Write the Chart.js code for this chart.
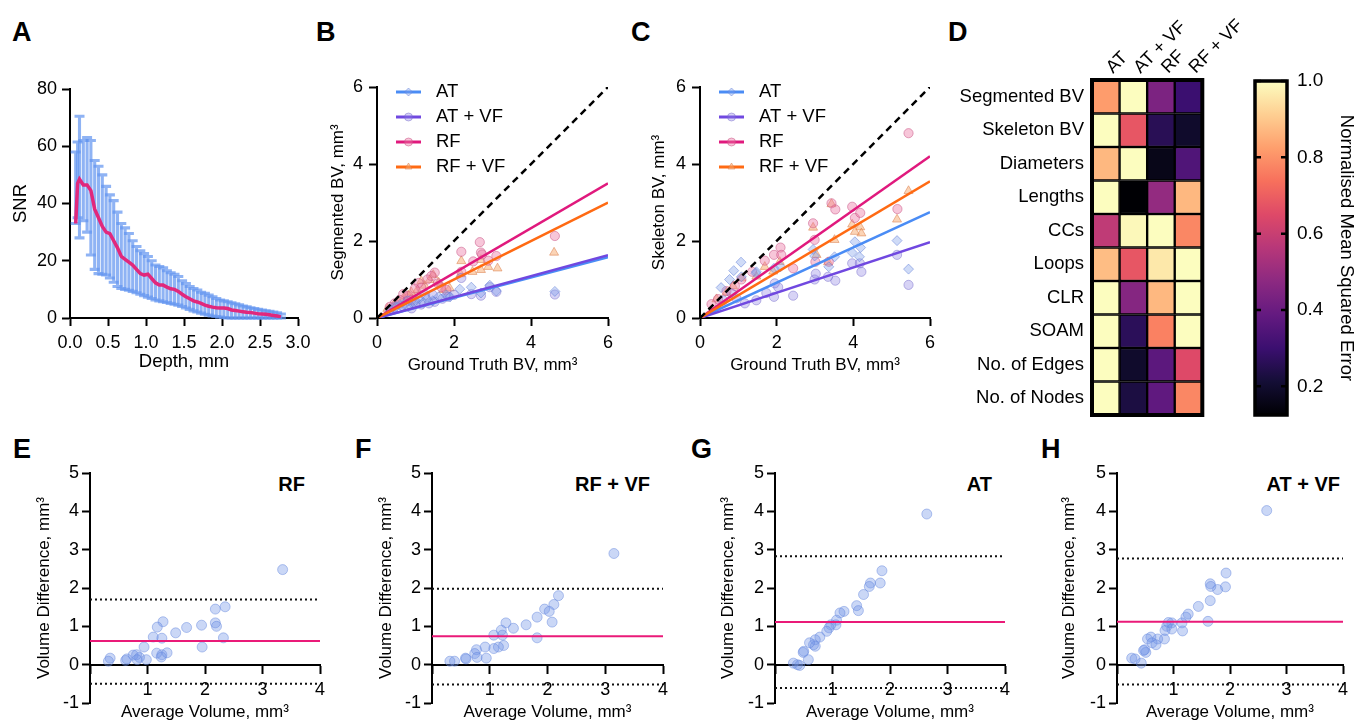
<!DOCTYPE html>
<html><head><meta charset="utf-8">
<script src="https://cdn.jsdelivr.net/npm/chart.js@4.4.1/dist/chart.umd.min.js"></script>
<style>
html,body{margin:0;padding:0;background:#fff;}
body{width:1357px;height:721px;position:relative;overflow:hidden;font-family:"Liberation Sans",Arial,sans-serif;}
canvas{position:absolute;}
.lbl{position:absolute;font-weight:bold;font-size:27px;line-height:1;color:#000;}
.ttl{position:absolute;font-weight:bold;font-size:20px;line-height:1;color:#000;white-space:nowrap;}
</style></head><body>
<div class="lbl" style="left:12px;top:19px">A</div>
<div class="lbl" style="left:316px;top:19px">B</div>
<div class="lbl" style="left:631px;top:19px">C</div>
<div class="lbl" style="left:948px;top:19px">D</div>
<div class="lbl" style="left:13px;top:436px">E</div>
<div class="lbl" style="left:355px;top:436px">F</div>
<div class="lbl" style="left:691px;top:436px">G</div>
<div class="lbl" style="left:1041px;top:436px">H</div>
<div class="ttl" style="right:1052px;top:474px">RF</div>
<div class="ttl" style="right:707px;top:474px">RF + VF</div>
<div class="ttl" style="right:365px;top:474px">AT</div>
<div class="ttl" style="right:17px;top:474px">AT + VF</div>
<script>
// ---------- Panel A data ----------
const depthMm = [0.075,0.1,0.125,0.175,0.225,0.275,0.325,0.375,0.425,0.475,0.525,0.575,0.625,0.675,0.725,0.775,0.825,0.875,0.925,0.975,1.025,1.075,1.125,1.175,1.225,1.275,1.325,1.375,1.425,1.475,1.525,1.575,1.625,1.675,1.725,1.775,1.825,1.875,1.925,1.975,2.025,2.075,2.125,2.175,2.225,2.275,2.325,2.375,2.425,2.475,2.525,2.575,2.625,2.675,2.725,2.775];
const snrMean = [33,47,48.5,46.5,46.5,44.5,38,35,32,30,29.5,27,24.5,21.5,20.5,19.5,18.5,17,15.5,15,15.3,13.8,12.3,11.5,11.5,10.8,10.2,10,9.3,8.3,7.4,6.7,6,5.6,5.1,4.5,4.1,3.8,3.6,3.5,3.5,3.3,2.8,2.6,2.4,2.2,2,1.9,1.7,1.5,1.4,1.3,1.1,0.9,0.7,0.4];
const snrUpper = [58,61.5,70.5,62,63,62,55,53,50,46,43,41,37,33,31.5,29.5,27,25,23.5,22.5,21.5,20,18.5,18,17.5,16.5,15.8,15.3,14.5,13,12,11,10.3,9.8,9,8.6,8,7.4,6.8,6.3,6,5.7,5.3,5,4.6,4.2,3.9,3.6,3.3,3,2.8,2.5,2.3,2.1,1.8,1.4];
const snrLower = [33,35,28,34,30,22,17,15.5,15.3,15,14,12.5,11,10.3,10,9.7,9.3,8.8,8.3,7.8,7.3,6.8,6.3,6,5.7,5.4,5.1,4.8,4.5,4,3.5,3,2.5,2.1,1.7,1.3,1,0.7,0.5,0.3,0.2,0,0,0,0,0,0,0,0,0,0,0,0,0,0,0];

// ---------- Panel B data (ground truth vs segmented BV) ----------
const gtB_AT   = [0.35,0.5,0.7,0.9,1.0,1.1,1.3,1.45,1.6,1.8,2.15,2.45,2.7,2.93,3.1,4.62,0.6,1.2,0.8,1.9];
const segB_AT  = [0.22,0.3,0.35,0.4,0.45,0.5,0.5,0.45,0.55,0.6,0.75,0.8,0.65,0.85,0.7,0.69,0.35,0.4,0.3,0.55];
const gtB_ATVF = [0.33,0.45,0.65,0.9,1.0,1.15,1.35,1.5,1.7,1.85,2.19,2.45,2.7,2.93,3.1,4.62,0.8,1.25,1.45,2.0];
const segB_ATVF= [0.2,0.28,0.32,0.25,0.38,0.35,0.38,0.42,0.5,0.55,1.04,0.62,0.58,0.8,0.68,0.61,0.45,0.6,0.6,0.6];
const gtB_RF   = [4.62,2.67,2.19,2.70,2.73,3.10,2.89,2.50,1.50,1.41,1.31,1.08,1.15,0.98,0.81,0.68,0.59,0.46,0.33,1.80,1.67,1.58,2.19,0.89];
const segB_RF  = [2.13,1.97,1.72,1.70,1.65,1.61,1.49,1.47,1.18,1.09,1.00,0.91,0.79,0.76,0.57,0.62,0.47,0.38,0.29,0.73,0.80,0.90,1.20,0.47];
const gtB_RFVF = [4.60,2.19,2.70,2.89,3.13,2.70,2.48,2.17,1.37,1.46,1.24,1.05,0.89,0.70,0.55,0.42,1.89,1.72,1.60,1.15,0.81,0.27];
const segB_RFVF= [1.70,1.48,1.51,1.33,1.29,1.25,1.20,1.14,0.99,1.12,0.84,0.73,0.67,0.54,0.42,0.31,0.77,0.73,0.92,0.96,0.59,0.24];
const fitEndB  = [1.58,1.63,3.5,3.0];   // fitted value at x = 6 : AT, AT+VF, RF, RF+VF

// ---------- Panel C data (ground truth vs skeleton BV) ----------
const gtC_AT   = [5.44,5.14,4.04,3.97,4.19,4.16,3.51,2.99,2.95,3.36,2.10,1.93,1.47,1.07,0.88,0.77,1.08,1.46,0.55];
const skC_AT   = [1.27,2.01,1.98,1.70,1.83,1.59,1.59,1.61,1.78,1.33,1.33,1.29,1.20,1.45,1.23,1.00,1.07,1.16,0.79];
const gtC_ATVF = [5.44,5.14,4.21,3.97,4.17,3.53,3.34,2.99,3.02,2.43,2.04,1.95,1.73,1.93,1.47,1.17,0.95,0.82,0.60];
const skC_ATVF = [0.86,1.64,1.20,1.42,1.42,0.97,1.07,1.00,1.15,0.58,0.80,0.90,0.65,0.55,0.46,0.38,0.51,0.64,0.46];
const gtC_RF   = [5.44,3.43,3.53,3.97,4.04,4.18,5.15,2.95,2.99,2.10,1.93,2.12,1.69,2.43,3.36,1.36,1.08,0.91,0.69,0.47,0.30,3.01];
const skC_RF   = [4.80,2.98,2.82,2.89,2.60,2.73,2.83,2.46,2.03,1.83,1.64,1.64,1.49,1.29,1.46,1.20,1.00,0.83,0.70,0.49,0.36,1.46];
const gtC_RFVF = [5.44,5.14,3.43,3.97,4.18,4.21,4.04,2.95,3.51,3.04,3.34,2.08,1.69,1.91,1.47,1.08,0.86,0.69,0.43];
const skC_RFVF = [3.30,2.56,2.96,2.43,2.36,2.20,2.24,2.35,2.03,1.64,1.45,1.46,1.33,1.21,1.08,1.03,0.83,0.66,0.49];
const fitEndC  = [2.75,1.97,4.2,3.55];
const identityLine = [0, 6];

// ---------- Panel D data (normalised MSE; one array per method column) ----------
const metricRows = ['Segmented BV','Skeleton BV','Diameters','Lengths','CCs','Loops','CLR','SOAM','No. of Edges','No. of Nodes'];
const methodCols = ['AT','AT + VF','RF','RF + VF'];
const mseAT   = [0.82,1.0,0.87,1.0,0.58,0.88,1.0,1.0,1.0,1.0];
const mseATVF = [1.0,0.68,1.0,0.125,0.99,0.68,0.46,0.265,0.195,0.23];
const mseRF   = [0.44,0.26,0.16,0.49,1.0,0.96,0.87,0.77,0.37,0.38];
const mseRFVF = [0.30,0.195,0.345,0.87,0.78,1.0,1.0,1.0,0.65,0.78];
const cbMin = 0.125, cbMax = 1.0;
const cbTicks = [0.2,0.4,0.6,0.8,1.0];

// ---------- Panels E-H data (Bland-Altman) ----------
const avgE  = [3.35,2.35,2.18,2.18,2.20,2.32,1.94,1.95,1.68,1.49,1.27,1.17,1.10,1.25,1.16,1.25,1.24,1.34,0.94,0.98,0.86,0.75,0.81,0.82,0.62,0.64,0.35,0.32];
const diffE = [2.48,1.51,1.45,1.09,1.00,0.70,1.03,0.46,0.97,0.83,1.12,0.98,0.72,0.69,0.30,0.26,0.20,0.31,0.46,0.13,0.19,0.25,0.26,0.13,0.11,0.15,0.17,0.09];
const statsE = [0.62,-0.50,1.70];  // bias, lower LoA, upper LoA
const avgF  = [3.15,2.19,2.11,1.95,2.03,2.08,1.82,1.82,1.63,1.41,1.28,1.20,1.07,1.22,1.24,1.15,1.07,0.92,0.94,0.77,0.74,0.78,0.58,0.59,0.39,0.31];
const diffF = [2.90,1.80,1.57,1.45,1.39,1.11,1.24,0.70,1.04,0.95,1.09,0.90,0.77,0.77,0.50,0.46,0.42,0.46,0.17,0.39,0.29,0.19,0.17,0.15,0.09,0.09];
const statsF = [0.74,-0.52,1.98];
const avgG  = [2.64,1.86,1.83,1.66,1.64,1.54,1.42,1.45,1.20,1.13,1.07,1.06,0.97,0.94,0.90,0.78,0.70,0.67,0.70,0.60,0.58,0.50,0.49,0.39,0.32,0.43];
const diffG = [3.93,2.45,2.13,2.13,2.04,1.83,1.54,1.41,1.39,1.35,1.16,1.04,1.04,0.96,0.87,0.72,0.65,0.52,0.48,0.57,0.13,0.35,0.32,0.00,0.04,-0.02];
const statsG = [1.11,-0.61,2.83];
const avgH  = [2.65,1.93,1.92,1.78,1.65,1.66,1.65,1.61,1.44,1.26,1.22,1.15,1.16,0.97,0.91,0.88,0.97,0.85,0.84,0.72,0.60,0.54,0.62,0.69,0.49,0.51,0.47,0.26,0.32,0.43];
const diffH = [4.02,2.39,2.03,1.96,2.11,2.04,1.67,1.13,1.52,1.32,1.24,1.09,0.88,1.09,1.10,1.00,0.93,0.89,0.67,0.67,0.72,0.67,0.57,0.52,0.39,0.32,0.37,0.17,0.15,0.04];
const statsH = [1.12,-0.52,2.77];
const baRange = [0, 4];

// ---------- helpers ----------
Chart.defaults.font.family = '"Liberation Sans", Arial, sans-serif';
Chart.defaults.color = '#000';
const zip = (xs, ys) => xs.map((x, i) => ({x, y: ys[i]}));

const magmaStops = [[0,'#000004'],[0.1,'#140e36'],[0.2,'#3b0f70'],[0.3,'#641a80'],[0.4,'#8c2981'],[0.5,'#b73779'],[0.6,'#de4968'],[0.7,'#f7705c'],[0.8,'#fe9f6d'],[0.9,'#fecf92'],[1,'#fcfdbf']];
function hex2rgb(h){return [parseInt(h.slice(1,3),16),parseInt(h.slice(3,5),16),parseInt(h.slice(5,7),16)];}
function magma(v){
  let t = (v - cbMin) / (cbMax - cbMin); t = Math.max(0, Math.min(1, t));
  for (let i = 1; i < magmaStops.length; i++) {
    if (t <= magmaStops[i][0]) {
      const [t0,c0] = magmaStops[i-1], [t1,c1] = magmaStops[i];
      const f = (t - t0) / (t1 - t0), a = hex2rgb(c0), b = hex2rgb(c1);
      return 'rgb(' + a.map((x,k)=>Math.round(x + (b[k]-x)*f)).join(',') + ')';
    }
  }
  return magmaStops[magmaStops.length-1][1];
}

function mk(L, T, W, H, cfg) {
  const c = document.createElement('canvas');
  c.width = W; c.height = H;
  c.style.left = L + 'px'; c.style.top = T + 'px';
  c.style.width = W + 'px'; c.style.height = H + 'px';
  document.body.appendChild(c);
  Object.assign(cfg.options, {responsive:false, maintainAspectRatio:false, animation:false, devicePixelRatio:1});
  cfg.options.plugins = Object.assign({legend:{display:false}, tooltip:{enabled:false}}, cfg.options.plugins || {});
  return new Chart(c, cfg);
}
function axis(o) {
  return {
    type:'linear', min:o.min, max:o.max, position:o.position,
    border:{display:true, color:'#000', width:2},
    grid:{display:true, drawOnChartArea:false, drawTicks:true, tickLength:8, tickWidth:2, tickColor:'#000'},
    ticks:{stepSize:o.step, autoSkip:false, maxRotation:0, minRotation:0, padding:o.pad, font:{size:o.fs || 18}, color:'#000', callback:o.cb},
    title:{display:!!o.title, text:o.title, font:{size:o.ts || 17}, color:'#000', padding:o.tpad},
    afterFit:o.fit
  };
}

// ---------- plugins ----------
const errBars = {
  id:'errBars',
  beforeDatasetsDraw(chart, args, o) {
    const xs = chart.scales.x, ys = chart.scales.y, ctx = chart.ctx;
    ctx.save(); ctx.strokeStyle = o.color; ctx.lineWidth = o.width;
    for (let i = 0; i < o.x.length; i++) {
      const x = xs.getPixelForValue(o.x[i]);
      const yu = ys.getPixelForValue(o.upper[i]), yl = ys.getPixelForValue(o.lower[i]);
      ctx.beginPath();
      ctx.moveTo(x, yu); ctx.lineTo(x, yl);
      ctx.moveTo(x - o.cap, yu); ctx.lineTo(x + o.cap, yu);
      ctx.moveTo(x - o.cap, yl); ctx.lineTo(x + o.cap, yl);
      ctx.stroke();
    }
    ctx.restore();
  }
};
const lineLegend = {
  id:'lineLegend',
  afterDatasetsDraw(chart, args, o) {
    const ctx = chart.ctx;
    o.items.forEach((it, i) => {
      const y = o.y + i * o.dy;
      ctx.save();
      ctx.strokeStyle = it.line; ctx.lineWidth = 3;
      ctx.beginPath(); ctx.moveTo(o.x, y); ctx.lineTo(o.x + o.len, y); ctx.stroke();
      ctx.fillStyle = it.fill; ctx.strokeStyle = it.border; ctx.lineWidth = 1;
      Chart.helpers.drawPoint(ctx, {pointStyle: it.style, radius: 4, borderWidth: 1}, o.x + o.len / 2, y);
      ctx.fillStyle = '#000'; ctx.font = '18.5px "Liberation Sans", Arial, sans-serif';
      ctx.textBaseline = 'middle'; ctx.textAlign = 'left';
      ctx.fillText(it.text, o.x + o.len + 15, y);
      ctx.restore();
    });
  }
};
const frame = {
  id:'frame',
  afterDraw(chart, args, o) {
    const a = chart.chartArea, ctx = chart.ctx;
    ctx.save(); ctx.strokeStyle = '#000'; ctx.lineWidth = o.width;
    ctx.strokeRect(a.left, a.top, a.right - a.left, a.bottom - a.top);
    if (o.ticks) {
      const ys = chart.scales.y;
      ctx.lineWidth = 2.5;
      o.ticks.forEach(v => {
        const y = ys.getPixelForValue(v);
        ctx.beginPath();
        ctx.moveTo(a.left, y); ctx.lineTo(a.left + 6, y);
        ctx.moveTo(a.right - 6, y); ctx.lineTo(a.right, y);
        ctx.stroke();
      });
    }
    ctx.restore();
  }
};

// ---------- Panel A ----------
mk(0, 50, 340, 330, {
  type:'scatter',
  data:{datasets:[{
    data: zip(depthMm, snrMean), showLine:true, borderColor:'#e1287c', borderWidth:3.5,
    pointRadius:0, tension:0
  }]},
  options:{
    layout:{padding:{top:39, right:42, bottom:0, left:0}},
    scales:{
      x: axis({min:0, max:3, step:0.5, pad:6, cb:v=>v.toFixed(1), title:'Depth, mm', ts:18.5, tpad:{top:0,bottom:7}, fit:s=>{s.height=62;}}),
      y: axis({min:0, max:80, step:20, pad:5, title:'SNR', ts:18.5, tpad:{top:10,bottom:0}, fit:s=>{s.width=70;}})
    },
    plugins:{errBars:{x:depthMm, upper:snrUpper, lower:snrLower, color:'rgba(100,150,240,0.72)', width:3.1, cap:5}}
  },
  plugins:[errBars]
});

// ---------- Panels B & C ----------
const series = [
  {name:'AT',      line:'#4a8cf5', fill:'rgba(130,160,235,0.38)', border:'rgba(95,125,215,0.5)', style:'rectRot', r:5},
  {name:'AT + VF', line:'#7048e0', fill:'rgba(140,130,225,0.35)', border:'rgba(110,100,200,0.45)', style:'circle', r:4.6},
  {name:'RF',      line:'#e0197d', fill:'rgba(235,120,165,0.42)', border:'rgba(200,80,130,0.5)', style:'circle', r:4.6},
  {name:'RF + VF', line:'#ff6a13', fill:'rgba(248,170,110,0.5)',  border:'rgba(220,130,80,0.55)', style:'triangle', r:5.2}
];
function bcChart(L, yTitle, xsArr, ysArr, fitEnd, yTitlePad, yWidth, padRight) {
  const ds = [];
  series.forEach((s, k) => ds.push({
    data: zip(xsArr[k], ysArr[k]), pointStyle:s.style, pointRadius:s.r,
    backgroundColor:s.fill, borderColor:s.border, pointBorderWidth:1, order:3
  }));
  series.forEach((s, k) => ds.push({
    data: zip(identityLine, [0, fitEnd[k]]), showLine:true, borderColor:s.line, borderWidth:2.5,
    pointRadius:0, order:2 - k * 0.1
  }));
  ds.push({data: zip(identityLine, identityLine), showLine:true, borderColor:'#000', borderWidth:2.5,
    borderDash:[7,5], pointRadius:0, order:1});
  return mk(L, 50, 340, 330, {
    type:'scatter',
    data:{datasets:ds},
    options:{
      layout:{padding:{top:37, right:padRight, bottom:0, left:0}},
      scales:{
        x: axis({min:0, max:6, step:2, pad:6, title:'Ground Truth BV, mm³', tpad:{top:0,bottom:4}, fit:s=>{s.height=62;}}),
        y: axis({min:0, max:6, step:2, pad:6, title:yTitle, tpad:{top:yTitlePad,bottom:0}, fit:s=>{s.width=yWidth;}})
      },
      plugins:{lineLegend:{x:yWidth + 19, y:42, dy:25, len:25,
        items: series.map(s => ({text:s.name, line:s.line, fill:s.fill, border:s.border, style:s.style}))}}
    },
    plugins:[lineLegend]
  });
}
bcChart(300, 'Segmented BV, mm³', [gtB_AT, gtB_ATVF, gtB_RF, gtB_RFVF], [segB_AT, segB_ATVF, segB_RF, segB_RFVF], fitEndB, 28, 77, 32);
bcChart(620, 'Skeleton BV, mm³', [gtC_AT, gtC_ATVF, gtC_RF, gtC_RFVF], [skC_AT, skC_ATVF, skC_RF, skC_RFVF], fitEndC, 29, 80, 30);

// ---------- Panel D heatmap ----------
const mseCols = [mseAT, mseATVF, mseRF, mseRFVF];
mk(940, 0, 300, 440, {
  type:'bar',
  data:{labels:metricRows, datasets: methodCols.map((c, j) => ({
    label:c, data: metricRows.map(() => 1),
    backgroundColor: mseCols[j].map(magma), borderColor:'#000', borderWidth:1.5, borderSkipped:false,
    barPercentage:1, categoryPercentage:1
  }))},
  options:{
    indexAxis:'y',
    layout:{padding:{top:0, right:14, bottom:25, left:0}},
    scales:{
      x:{type:'linear', display:false, stacked:true, min:0, max:4},
      y:{type:'category', stacked:true, position:'left', grid:{display:false, drawTicks:false}, border:{display:false},
         ticks:{padding:8, font:{size:18.5}, color:'#000'}, afterFit:s=>{s.width=152;}},
      xTop:{type:'category', axis:'x', labels:methodCols, position:'top', offset:true,
         grid:{display:false, drawTicks:false}, border:{display:false},
         ticks:{minRotation:45, maxRotation:45, padding:2, labelOffset:19, autoSkip:false, font:{size:18}, color:'#000'},
         afterFit:s=>{s.height=80;}}
    },
    plugins:{frame:{width:4}}
  },
  plugins:[frame]
});

// ---------- Panel D colour bar ----------
mk(1240, 0, 117, 440, {
  type:'bar',
  data:{labels:['scale'], datasets:[{
    data:[[cbMin, cbMax]], barPercentage:1, categoryPercentage:1, borderWidth:0,
    backgroundColor:(ctx) => {
      const ch = ctx.chart; if (!ch.chartArea) return '#000';
      const ys = ch.scales.y;
      const g = ch.ctx.createLinearGradient(0, ys.getPixelForValue(cbMin), 0, ys.getPixelForValue(cbMax));
      magmaStops.forEach(([t, c]) => g.addColorStop(t, c));
      return g;
    }
  }]},
  options:{
    layout:{padding:{top:81, right:0, bottom:25, left:15}},
    scales:{
      x:{display:false},
      y:{type:'linear', position:'right', min:cbMin, max:cbMax,
         afterBuildTicks:s=>{s.ticks = cbTicks.map(v => ({value:v}));},
         grid:{display:false, drawTicks:false}, border:{display:false},
         ticks:{padding:10, font:{size:19}, color:'#000', callback:v=>Number(v).toFixed(1)},
         title:{display:true, text:'Normalised Mean Squared Error', font:{size:18.5}, color:'#000', padding:{top:0,bottom:0}},
         afterFit:s=>{s.width=70;}}
    },
    plugins:{frame:{width:3.5, ticks:cbTicks}}
  },
  plugins:[frame]
});

// ---------- Panels E-H ----------
function baChart(L, W, yWidth, padRight, yTitlePad, xs, ys, st) {
  const [bias, lo, hi] = st;
  return mk(L, 440, W, 281, {
    type:'scatter',
    data:{datasets:[
      {data: zip(xs, ys), pointRadius:5, backgroundColor:'rgba(115,150,232,0.38)', borderColor:'rgba(95,130,220,0.45)', pointBorderWidth:1, order:3},
      {data: zip(baRange, [bias, bias]), showLine:true, borderColor:'#ea1a78', borderWidth:2, pointRadius:0, order:1},
      {data: zip(baRange, [hi, hi]), showLine:true, borderColor:'#111', borderWidth:2, borderDash:[2,3], pointRadius:0, order:2},
      {data: zip(baRange, [lo, lo]), showLine:true, borderColor:'#111', borderWidth:2, borderDash:[2,3], pointRadius:0, order:2}
    ]},
    options:{
      layout:{padding:{top:33, right:padRight, bottom:18, left:0}},
      scales:{
        x: Object.assign(axis({min:0, max:4, step:1, pad:7, cb:v=>v===0?'':v, title:'Average Volume, mm³', tpad:{top:0,bottom:0}, fit:s=>{s.height=58;}}), {position:{y:0}}),
        y: axis({min:-1, max:5, step:1, pad:3, title:'Volume Difference, mm³', tpad:{top:yTitlePad,bottom:0}, fit:s=>{s.width=yWidth;}})
      }
    }
  });
}
baChart(0,    340, 90, 20, 34, avgE, diffE, statsE);
baChart(340,  340, 92, 17, 36, avgF, diffF, statsF);
baChart(680,  340, 95, 15, 38, avgG, diffG, statsG);
baChart(1020, 337, 97, 14, 39, avgH, diffH, statsH);
</script>
</body></html>
